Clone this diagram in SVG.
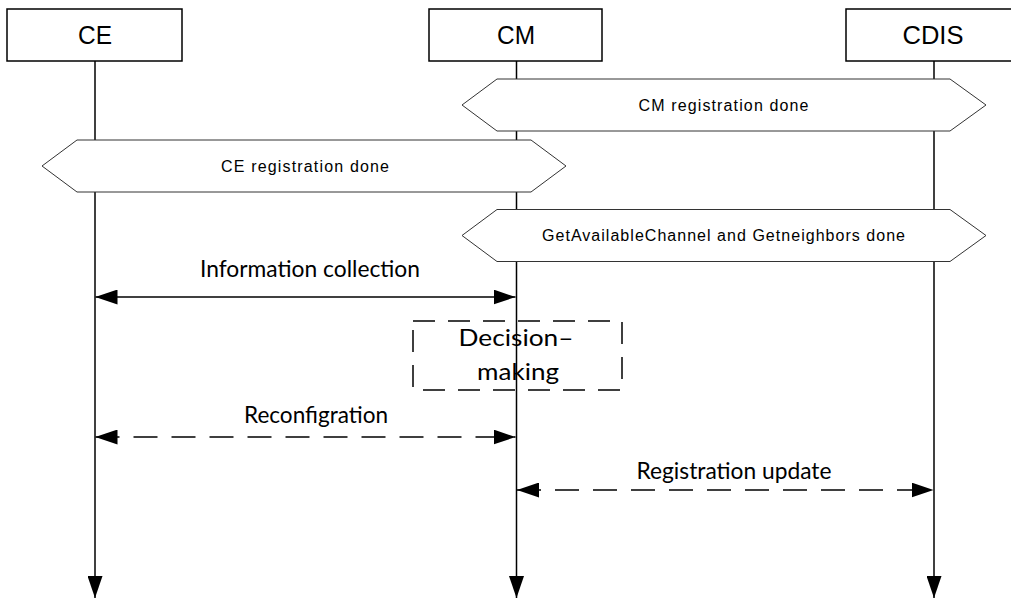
<svg xmlns="http://www.w3.org/2000/svg" width="1011" height="600" viewBox="0 0 1011 600">
<style>
.box{fill:#fff;stroke:#000;stroke-width:1.5}
.bt{font-family:"Liberation Sans",Arial,sans-serif;font-size:26px;text-anchor:middle;fill:#000}
.life{stroke:#000;stroke-width:1.5;fill:none}
.hex{fill:#fff;stroke:#333;stroke-width:1}
.ht{font-family:"Liberation Sans",Arial,sans-serif;font-size:16px;text-anchor:middle;fill:#000}
.msg{stroke:#000;stroke-width:1.5;fill:none}
.dash{stroke-dasharray:24,14}
.ml{font-family:Lato,"Open Sans",sans-serif;font-size:23px;text-anchor:middle;fill:#000}
.dec{fill:none;stroke:#000;stroke-width:1.5;stroke-dasharray:22,13}
</style>
<defs>
<marker id="ah" viewBox="0 0 22 15" refX="22" refY="7.5" markerWidth="22" markerHeight="15" markerUnits="userSpaceOnUse" orient="auto-start-reverse">
<path d="M0,0 L22,7.5 L0,15 Z" fill="#000"/>
</marker>
</defs>
<g id="lifelines">
<line class="life" x1="95" y1="61" x2="95" y2="598" marker-end="url(#ah)"/>
<line class="life" x1="516.5" y1="61" x2="516.5" y2="598" marker-end="url(#ah)"/>
<line class="life" x1="934" y1="61" x2="934" y2="598" marker-end="url(#ah)"/>
</g>
<g id="node-CE">
<rect class="box" x="7" y="9" width="175" height="52"/>
<text class="bt" x="95" y="44" textLength="34" lengthAdjust="spacingAndGlyphs">CE</text>
</g>
<g id="node-CM">
<rect class="box" x="429" y="9" width="173" height="52"/>
<text class="bt" x="516" y="44" textLength="38" lengthAdjust="spacingAndGlyphs">CM</text>
</g>
<g id="node-CDIS">
<rect class="box" x="846" y="9" width="176" height="52"/>
<text class="bt" x="933" y="44" textLength="61" lengthAdjust="spacingAndGlyphs">CDIS</text>
</g>
<g id="cm-registration">
<polygon class="hex" points="462,105 497,79 950,79 986,105 950,131 497,131"/>
<text class="ht" x="723.5" y="111" textLength="170" lengthAdjust="spacing">CM registration done</text>
</g>
<g id="ce-registration">
<polygon class="hex" points="42,166 77,140 531,140 566,166 531,192 77,192"/>
<text class="ht" x="305" y="172" textLength="168" lengthAdjust="spacing">CE registration done</text>
</g>
<g id="getavailable">
<polygon class="hex" points="462,235.5 497,209.5 950,209.5 986,235.5 950,261.5 497,261.5"/>
<text class="ht" x="723.5" y="241" textLength="363" lengthAdjust="spacing">GetAvailableChannel and Getneighbors done</text>
</g>
<g id="decision-making">
<rect class="dec" x="413" y="321" width="209" height="69"/>
<text class="ml" x="516" y="346" font-size="25" textLength="115" lengthAdjust="spacingAndGlyphs">Decision–</text>
<text class="ml" x="518" y="380" font-size="25" textLength="82" lengthAdjust="spacingAndGlyphs">making</text>
</g>
<g id="connectors">
<line class="msg" x1="95.5" y1="297" x2="515.5" y2="297" marker-start="url(#ah)" marker-end="url(#ah)"/>
<text class="ml" x="310" y="277" textLength="220" lengthAdjust="spacingAndGlyphs">Information collection</text>
<line class="msg dash" x1="95.5" y1="437" x2="515.5" y2="437" marker-start="url(#ah)" marker-end="url(#ah)"/>
<text class="ml" x="316" y="423" textLength="144" lengthAdjust="spacingAndGlyphs">Reconfigration</text>
<line class="msg dash" x1="517" y1="490" x2="933.5" y2="490" marker-start="url(#ah)" marker-end="url(#ah)"/>
<text class="ml" x="734" y="479" textLength="195" lengthAdjust="spacingAndGlyphs">Registration update</text>
</g>
</svg>
